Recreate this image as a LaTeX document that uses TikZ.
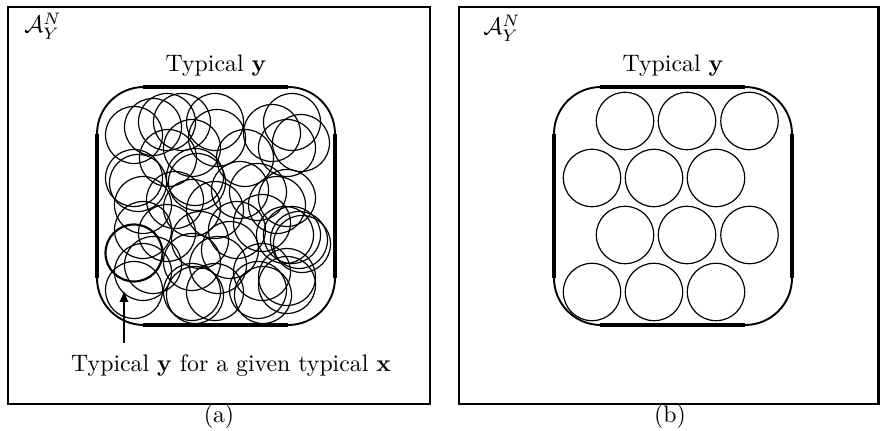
\documentclass[tikz,border=0pt]{standalone}
\usepackage{amsmath}
\usetikzlibrary{arrows.meta,positioning}
\begin{document}
\begin{tikzpicture}[x=0.42pt,y=-0.42pt,
  frame/.style={draw=black,line width=1.1pt},
  sideline/.style={line width=1.3pt},
  cornerline/.style={line width=0.8pt,rounded corners=19.7pt},
  disc/.style={line width=0.5pt},
  given/.style={line width=0.9pt},
  pointer/.style={line width=1.1pt,-{Latex[length=5pt,width=4pt]}}]
\useasboundingbox (0,0) rectangle (880,431);
% outer frames
\draw[frame] (8,7) rectangle (430,404);
\draw[frame] (459,7) rectangle (878.5,404);
% typical set of y, both panels
\foreach \dx in {0,457}{
  \begin{scope}[shift={(\dx,0)}]
    \draw[cornerline] (97,87) rectangle (335,325);
    \draw[sideline] (143,87) -- (288,87) (143,325) -- (288,325)
      (97,134) -- (97,278) (335,134) -- (335,278);
    \node (typ\dx) at (216,66) {Typical $\mathbf{y}$};
  \end{scope}}
% (a): overlapping conditional sets
\foreach \cx/\cy in {134/135,153/127,167/122,182/122,215/122,217/138,272/133,
    292/122,301/143,287/148,168/158,192/148,
    134/178,138/183,195/177,197/182,245/158,258/192,287/198,277/205,
    240/190,175/200,
    143/205,143/230,167/233,192/208,215/210,237/230,262/223,292/235,299/240,285/235,
    230/250,200/240,302/244,
    153/265,143/272,192/262,218/265,262/272,287/277,
    134/290,192/292,195/295,215/292,258/290,263/295,287/285}
  \draw[disc] (\cx,\cy) circle[radius=28.5];
\draw[given] (134,253) circle[radius=28.5];
% (b): disjoint conditional sets
\foreach \cx/\cy in {625/121,687/121,749.5/121,592/178,654/178,716/178,
    625/235,687/235,749.5/235,592/292,654/292,716/292}
  \draw[disc] (\cx,\cy) circle[radius=28.7];
% labels
\node (seta) at (43,26) {$\mathcal{A}_Y^N$};
\node (setb) at (502,28) {$\mathcal{A}_Y^N$};
\node (cond) at (231,366) {Typical $\mathbf{y}$ for a given typical $\mathbf{x}$};
\node (capa) at (219,417) {(a)};
\node (capb) at (670,417) {(b)};
% arrow to one conditional set
\coordinate (tail) at (124,343);
\coordinate (tip) at (124,290);
\draw[pointer] (tail) -- (tip);
\end{tikzpicture}
\end{document}
